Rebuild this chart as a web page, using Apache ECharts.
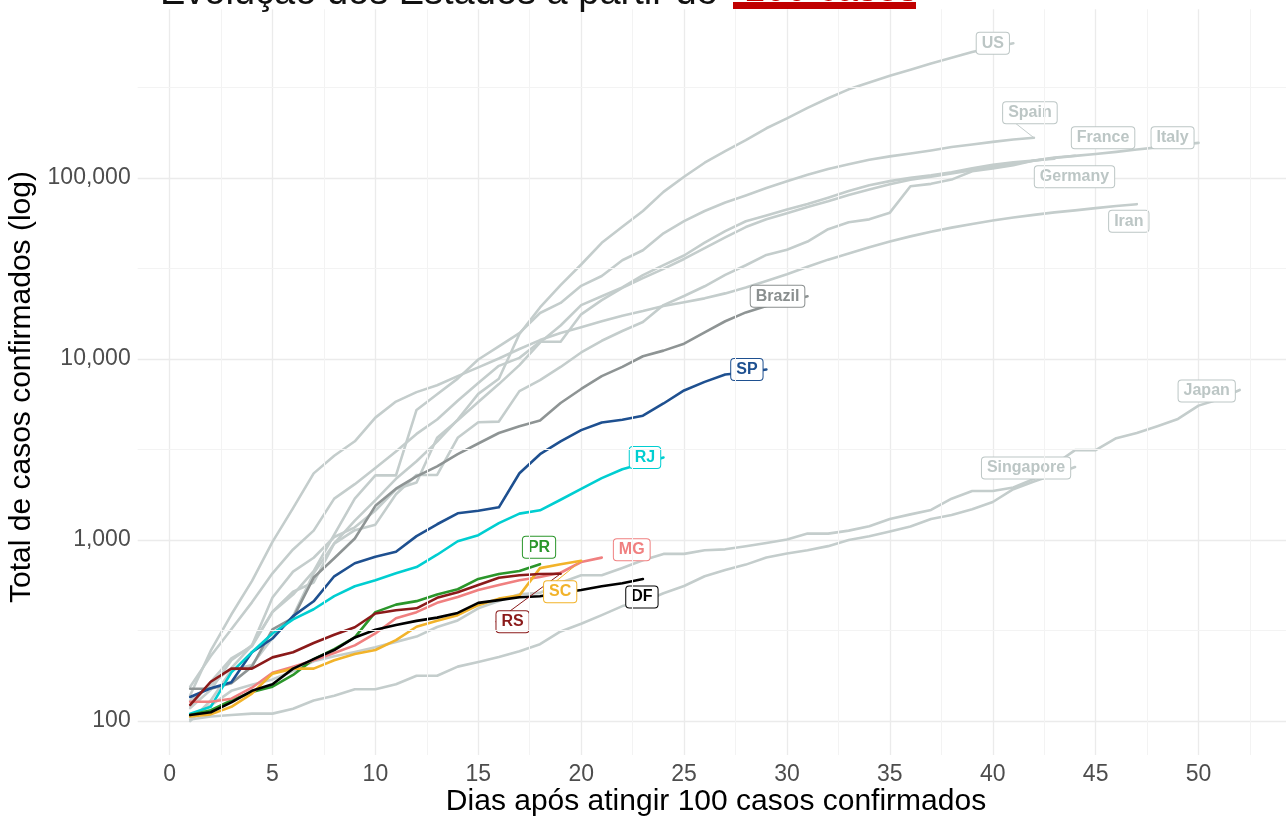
<!DOCTYPE html>
<html><head><meta charset="utf-8">
<script src="https://cdn.jsdelivr.net/npm/echarts@6/dist/echarts.min.js"></script>
<style>html,body{margin:0;padding:0;background:#fff}#c{width:1286px;height:818px}</style>
</head><body><div id="c"></div>
<script>
// ---- data: total confirmed cases, day 1 = first day with >= 100 cases ----
const usCases = [118,149,217,262,402,518,583,959,1281,1663,2179,2727,3499,4632,6421,7783,13747,19273,25600,33276,43847,53740,65778,83836,101657,121478,140886,161807,188172,213372,243762,275586,308853,337072,366667,396223,429052,461437,496535,526396,555313];
const spainCases = [120,165,222,259,400,500,673,1073,1695,2277,2277,5232,6391,7798,9942,11748,13910,17963,20410,25374,28768,35136,39885,49515,57786,65719,73235,80110,87956,95923,104118,112065,119199,126168,131646,136675,141942,148220,153222,158273,163027,166831];
const franceCases = [100,130,191,204,288,380,656,957,1134,1217,1792,2290,2290,3672,4480,4513,6650,7652,9043,10871,12612,14282,16018,19856,22304,25233,29155,32964,37575,40174,44550,52128,56989,59105,64338,89953,92839,98010,109069,112950,117749,124869,129654,132591];
const italyCases = [155,229,322,453,655,888,1128,1694,2036,2502,3089,3858,4636,5883,7375,9172,10149,12462,12462,17660,21157,24747,27980,31506,35713,41035,47021,53578,59138,63927,69176,74386,80589,86498,92472,97689,101739,105792,110574,115242,119827,124632,128948,132547,135586,139422,143626,147577,152271,156363];
const germanyCases = [130,159,196,262,482,670,799,1040,1176,1457,1908,2078,3675,4585,5795,7272,9257,12327,15320,19848,22213,24873,29056,32986,37323,43938,50871,57695,62095,66885,71808,77872,84794,91159,96092,100123,103374,107663,113296,118181,122171,124908,127854];
const iranCases = [139,245,388,593,978,1501,2336,2922,3513,4747,5823,6566,7161,8042,9000,10075,11364,12729,13938,14991,16169,17361,18407,19644,20610,21638,23049,24811,27017,29406,32332,35408,38309,41495,44605,47593,50468,53183,55743,58226,60500,62589,64586,66220,68192,70029,71686];
const japanCases = [105,122,147,159,170,189,214,228,241,256,274,293,331,360,420,461,502,511,581,639,639,701,773,839,839,878,889,924,963,1007,1086,1086,1128,1193,1307,1387,1468,1693,1866,1866,1953,2178,2617,3139,3139,3654,3906,4257,4667,5530,6005,6748];
const singaporeCases = [102,106,108,110,110,117,130,138,150,150,160,178,178,200,212,226,243,266,313,345,385,432,455,509,558,631,683,732,802,844,879,926,1000,1049,1114,1189,1309,1375,1481,1623,1910,2108,2299,2532];
const brazilCases = [151,151,162,200,321,372,621,793,1021,1546,1924,2247,2554,2985,3417,3904,4256,4579,5717,6836,8044,9056,10360,11130,12161,14034,16170,18092,19638,20727,22192];
const spCases = [136,152,164,240,286,380,459,631,745,810,862,1052,1223,1406,1451,1517,2339,2981,3506,4048,4466,4620,4866,5682,6708,7480,8216,8419,8755];
const rjCases = [110,120,186,240,305,365,415,490,556,600,655,710,830,985,1065,1240,1400,1460,1670,1920,2200,2460,2650,2860];
const prCases = [108,115,130,145,155,180,220,250,290,400,440,460,500,535,610,650,675,736];
const mgCases = [128,128,133,153,185,200,217,238,262,305,370,400,450,485,530,565,600,625,660,757,800];
const scCases = [106,109,120,142,183,195,195,217,235,247,280,332,358,385,437,475,495,700,736,768];
const rsCases = [123,165,195,195,225,240,270,300,330,393,410,420,480,515,565,620,640,650,652];
const dfCases = [108,112,127,147,160,195,220,247,290,320,340,358,373,396,450,466,483,490,510,530,556,578,610];

const xTickLabels = ['0','5','10','15','20','25','30','35','40','45','50'];
const yTickLabels = ['100','1,000','10,000','100,000'];
const minorXBreaks = [2.5,7.5,12.5,17.5,22.5,27.5,32.5,37.5,42.5,47.5,52.5];
const minorYBreaks = [316.2,3162,31623,316228];

// ---- styling ----
const FONT = '"Liberation Sans", Arial, sans-serif';
const GRAY = '#C4CDCC', GRAYTXT = '#BCC6C5';
const seriesList = [
  ['US', usCases,        {color: GRAY, text: GRAYTXT, dx: -20.5, dy: 0}],
  ['Spain', spainCases,  {color: GRAY, text: GRAYTXT, dx: -4, dy: -25, line: true}],
  ['France', franceCases,{color: GRAY, text: GRAYTXT, dx: 28, dy: -18}],
  ['Italy', italyCases,  {color: GRAY, text: GRAYTXT, dx: -26, dy: -5}],
  ['Germany', germanyCases,{color: GRAY, text: GRAYTXT, dx: 20, dy: 18}],
  ['Iran', iranCases,    {color: GRAY, text: GRAYTXT, dx: -8, dy: 17}],
  ['Japan', japanCases,  {color: GRAY, text: GRAYTXT, dx: -33, dy: 1}],
  ['Singapore', singaporeCases,{color: GRAY, text: GRAYTXT, dx: -49, dy: 1}],
  ['Brazil', brazilCases,{color: '#8E9494', text: '#8A8F8F', dx: -30, dy: 0}],
  ['SP', spCases,        {color: '#1E5090', text: '#1E5090', dx: -19.5, dy: 0}],
  ['RJ', rjCases,        {color: '#00CED1', text: '#00CED1', dx: -18.5, dy: 0}],
  ['PR', prCases,        {color: '#2B962B', text: '#2B962B', dx: -1, dy: -17}],
  ['MG', mgCases,        {color: '#F08080', text: '#F08080', dx: 30, dy: -8}],
  ['SC', scCases,        {color: '#F2B32A', text: '#F2B32A', dx: -21, dy: 31, line: true}],
  ['RS', rsCases,        {color: '#8B1A1A', text: '#8B1A1A', dx: -48, dy: 48, line: true}],
  ['DF', dfCases,        {color: '#000000', text: '#000000', dx: -1, dy: 18}]
];

function makeSeries(name, values, st) {
  const last = values.length - 1;
  return {
    type: 'line', name: name, z: 3, silent: true, animation: false,
    showSymbol: true, symbol: 'circle', symbolSize: 0,
    lineStyle: {color: st.color, width: 2.6, join: 'round', cap: 'round'},
    itemStyle: {color: st.color},
    emphasis: {disabled: true},
    data: values.map((v, i) => i === last ? {
      value: [i + 1, v],
      label: {
        show: true, formatter: name, position: 'inside', align: 'center', verticalAlign: 'middle',
        color: st.text, fontFamily: FONT, fontSize: 16, fontWeight: 'bold',
        backgroundColor: '#ffffff', borderColor: st.text, borderWidth: 1, borderRadius: 3,
        padding: [3, 5, 2, 5]
      }
    } : [i + 1, v]),
    labelLayout: {dx: st.dx, dy: st.dy},
    labelLine: {show: !!st.line, lineStyle: {color: st.color, width: 1}}
  };
}

const series = [{
  type: 'line', data: [], z: 1, silent: true, animation: false,
  markLine: {
    silent: true, symbol: 'none', animation: false, label: {show: false},
    lineStyle: {color: '#F3F3F3', width: 1, type: 'solid'},
    emphasis: {disabled: true},
    data: minorXBreaks.map(v => ({xAxis: v})).concat(minorYBreaks.map(v => ({yAxis: v})))
  }
}].concat(seriesList.map(s => makeSeries(s[0], s[1], s[2])));

const chart = echarts.init(document.getElementById('c'), null, {renderer: 'canvas'});
chart.setOption({
  backgroundColor: '#ffffff',
  animation: false,
  grid: {left: 137.7, right: 0, top: 9.3, bottom: 63, containLabel: false},
  xAxis: {
    type: 'value', min: -1.55, max: 54.25, splitNumber: 11,
    axisLine: {show: false}, axisTick: {show: false},
    axisLabel: {
      color: '#4D4D4D', fontSize: 23, fontFamily: FONT, margin: 8,
      showMinLabel: false, showMaxLabel: false,
      formatter: v => { const s = String(v); return xTickLabels.indexOf(s) >= 0 ? s : ''; }
    },
    splitLine: {show: true, showMinLine: false, showMaxLine: false, lineStyle: {color: '#EBEBEB', width: 1.3}}
  },
  yAxis: {
    type: 'log', logBase: 10, min: 65, max: 854700,
    axisLine: {show: false}, axisTick: {show: false},
    axisLabel: {
      color: '#4D4D4D', fontSize: 23, fontFamily: FONT, margin: 7,
      showMinLabel: false, showMaxLabel: false,
      formatter: v => { const s = Math.round(v).toLocaleString('en-US'); return yTickLabels.indexOf(s) >= 0 ? s : ''; }
    },
    splitLine: {show: true, showMinLine: false, showMaxLine: false, lineStyle: {color: '#EBEBEB', width: 1.3}}
  },
  graphic: [
    {type: 'text', left: 160, top: -25, z: 10, style: {text: 'Evolução dos Estados a partir de', fontSize: 38, fontFamily: FONT, fill: '#111'}},
    {type: 'text', left: 744, top: -28, z: 10, style: {text: '100 casos', fontSize: 38, fontFamily: FONT, fill: '#C00000'}},
    {type: 'rect', shape: {x: 733, y: 2, width: 183, height: 7}, z: 10, style: {fill: '#C00000'}},
    {type: 'text', x: 22, y: 387, rotation: Math.PI / 2, z: 10,
      style: {text: 'Total de casos confirmados (log)', fontSize: 30, fontFamily: FONT, fill: '#000', align: 'center', verticalAlign: 'middle'}},
    {type: 'text', x: 716, y: 802, z: 10,
      style: {text: 'Dias após atingir 100 casos confirmados', fontSize: 30, fontFamily: FONT, fill: '#000', align: 'center', verticalAlign: 'middle'}}
  ],
  series: series
});
</script></body></html>
